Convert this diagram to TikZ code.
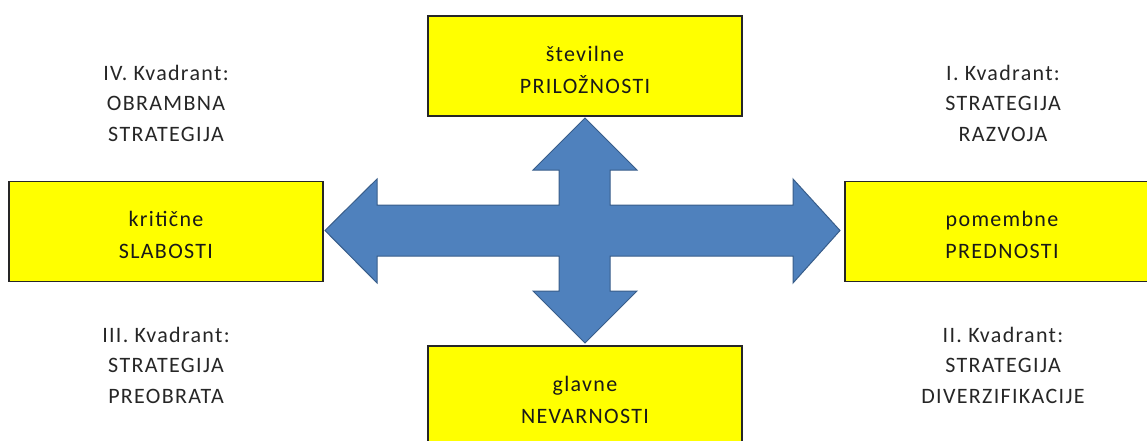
\documentclass[tikz,border=0pt]{standalone}
\usepackage{fontspec}
\setmainfont{Carlito}[LetterSpace=6]
\definecolor{arrowfill}{HTML}{4F81BD}
\definecolor{arrowline}{HTML}{385D8A}
\definecolor{boxyellow}{HTML}{FFFF00}
\tikzset{
  ybox/.style={draw=black!85, line width=1.3pt, fill=boxyellow, minimum width=314pt, minimum height=100pt, inner sep=0pt},
  boxtext/.style={align=center, font=\fontsize{22}{32}\selectfont, text=black!90, inner sep=0pt},
  quad/.style={align=center, font=\fontsize{22}{30.5}\selectfont, text=black!85, inner sep=0pt}
}
\begin{document}
\begin{tikzpicture}[x=1pt,y=-1pt]
\useasboundingbox (0,0) rectangle (1147,441);
\clip (0,0) rectangle (1147,441);
% boxes
\node[ybox] (top) at (585,66) {};
\node[ybox] (bot) at (585,396) {};
\node[ybox] (left) at (166,231.5) {};
\node[ybox] (right) at (1002,231.5) {};
\node[boxtext] (toptext) at (585,70) {številne\\PRILOŽNOSTI};
\node[boxtext] (bottext) at (585,400) {glavne\\NEVARNOSTI};
\node[boxtext] (lefttext) at (166,235) {kritične\\SLABOSTI};
\node[boxtext] (righttext) at (1002,235) {pomembne\\PREDNOSTI};
% quadrant labels
\node[quad] (q4) at (166,103) {IV. Kvadrant:\\OBRAMBNA\\STRATEGIJA};
\node[quad] (q1) at (1003,103) {I. Kvadrant:\\STRATEGIJA\\RAZVOJA};
\node[quad] (q3) at (166,365) {III. Kvadrant:\\STRATEGIJA\\PREOBRATA};
\node[quad] (q2) at (1003,365) {II. Kvadrant:\\STRATEGIJA\\DIVERZIFIKACIJE};
% four-way arrow
\draw[fill=arrowfill, draw=arrowline, line width=1pt, line join=miter]
  (585,118) -- (637,170) -- (610,170) -- (610,205) -- (793,205) -- (793,179)
  -- (840,230.5) -- (793,283) -- (793,256) -- (610,256) -- (610,291)
  -- (637,291) -- (585,343) -- (533,291) -- (559,291) -- (559,256)
  -- (377,256) -- (377,283) -- (325,230.5) -- (377,179) -- (377,205)
  -- (559,205) -- (559,170) -- (533,170) -- cycle;
\end{tikzpicture}
\end{document}
